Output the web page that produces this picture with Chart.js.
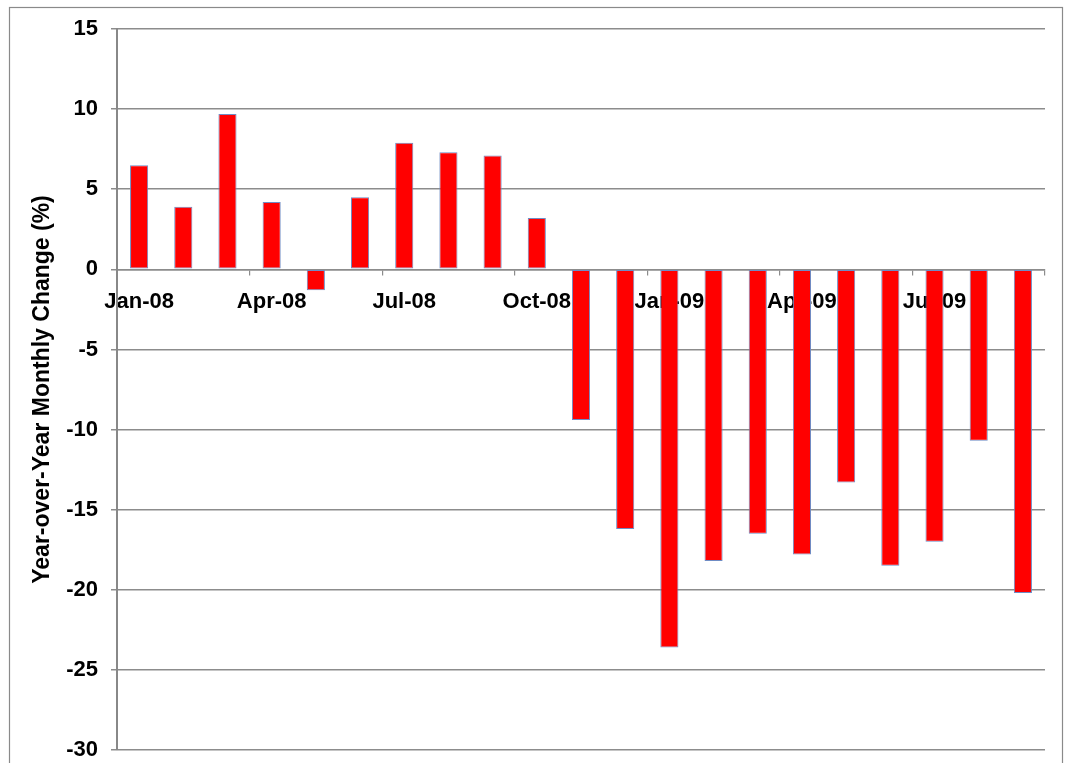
<!DOCTYPE html>
<html>
<head>
<meta charset="utf-8">
<script src="https://cdn.jsdelivr.net/npm/chart.js@4.4.1/dist/chart.umd.min.js"></script>
<style>
  html, body { margin: 0; padding: 0; background: #ffffff; }
  #wrap { position: relative; width: 1067px; height: 763px; }
</style>
</head>
<body>
<div id="wrap"><canvas id="chart" width="1067" height="763"></canvas></div>
<script>
// Monthly categories, Jan 2008 – Sep 2009
const months = [
  'Jan-08', 'Feb-08', 'Mar-08', 'Apr-08', 'May-08', 'Jun-08', 'Jul-08',
  'Aug-08', 'Sep-08', 'Oct-08', 'Nov-08', 'Dec-08', 'Jan-09', 'Feb-09',
  'Mar-09', 'Apr-09', 'May-09', 'Jun-09', 'Jul-09', 'Aug-09', 'Sep-09'
];

// Year-over-year monthly change, percent
const yoyChange = [
  6.5, 3.9, 9.7, 4.2, -1.3, 4.5, 7.9,
  7.3, 7.1, 3.2, -9.4, -16.2, -23.6, -18.2,
  -16.5, -17.8, -13.3, -18.5, -17.0, -10.7, -20.2
];

// Value axis range and step
const yMin = -30;
const yMax = 15;
const yStep = 5;

const FONT = '"Liberation Sans", Arial, Helvetica, sans-serif';
const GRID = '#8c8c8c';

// Keep the plot area fixed by the layout padding alone
function noEdgePadding(scale) {
  scale.paddingTop = 0;
  scale.paddingBottom = 0;
  scale.paddingLeft = 0;
  scale.paddingRight = 0;
}

// Thin frame around the whole chart
const framePlugin = {
  id: 'frame',
  beforeDraw(chart) {
    const ctx = chart.ctx;
    ctx.save();
    ctx.fillStyle = '#ffffff';
    ctx.fillRect(0, 0, chart.width, chart.height);
    ctx.strokeStyle = '#8a8a8a';
    ctx.lineWidth = 1.2;
    ctx.strokeRect(9.5, 7.5, 1053, 800);
    ctx.restore();
  }
};

new Chart(document.getElementById('chart'), {
  type: 'bar',
  data: {
    labels: months,
    datasets: [{
      data: yoyChange,
      backgroundColor: '#ff0000',
      borderColor: '#6f8cc4',
      borderWidth: 1,
      borderSkipped: false,
      barPercentage: 0.41,
      categoryPercentage: 1.0
    }]
  },
  options: {
    responsive: false,
    animation: false,
    events: [],
    layout: { padding: { left: 0, right: 22, top: 29, bottom: 13 } },
    plugins: {
      legend: { display: false },
      tooltip: { enabled: false }
    },
    scales: {
      x: {
        position: { y: 0 },
        z: 1,
        afterFit(scale) { scale.height = 0; noEdgePadding(scale); },
        grid: {
          drawOnChartArea: false,
          drawTicks: true,
          tickLength: 5,
          lineWidth: 1.2,
          color(ctx) {
            if (ctx.index === undefined) return GRID;
            return ctx.index % 3 === 0 ? GRID : 'rgba(0,0,0,0)';
          }
        },
        border: { display: true, color: GRID, width: 1.5 },
        ticks: {
          autoSkip: false,
          maxRotation: 0,
          minRotation: 0,
          padding: 14,
          color: '#000000',
          font: { family: FONT, size: 22, weight: 'bold' },
          callback(value, index) {
            return index % 3 === 0 ? months[index] : '';
          }
        }
      },
      y: {
        min: yMin,
        max: yMax,
        afterFit(scale) { scale.width = 117; noEdgePadding(scale); },
        grid: {
          color: GRID,
          lineWidth: 1.5,
          drawTicks: true,
          tickLength: 6
        },
        border: { display: true, color: '#888888', width: 2 },
        ticks: {
          stepSize: yStep,
          padding: 13,
          color: '#000000',
          font: { family: FONT, size: 22, weight: 'bold' }
        },
        title: {
          display: true,
          text: 'Year-over-Year Monthly Change (%)',
          color: '#000000',
          padding: { top: 29, bottom: 0 },
          font: { family: FONT, size: 23, weight: 'bold' }
        }
      }
    }
  },
  plugins: [framePlugin]
});
</script>
</body>
</html>
